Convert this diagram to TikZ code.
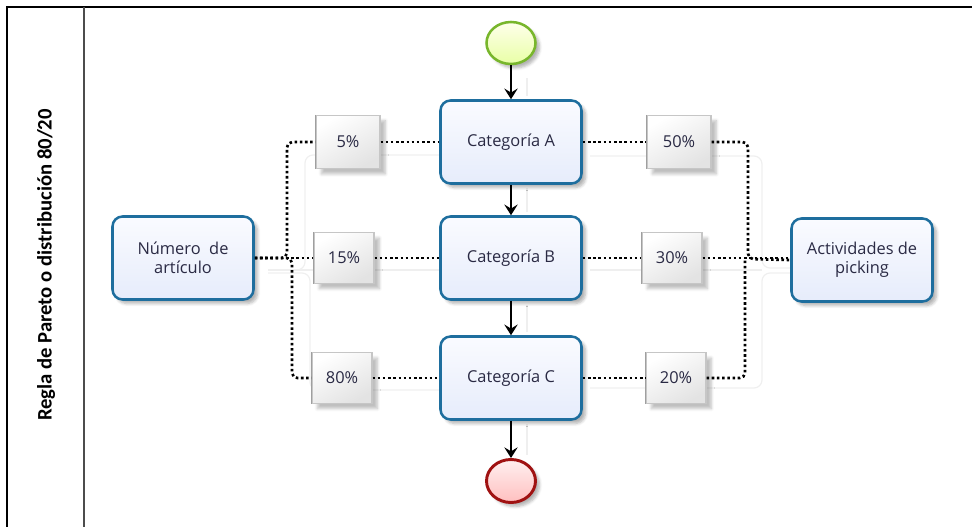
\documentclass[tikz,border=0pt]{standalone}
\usepackage{fontspec}
\setmainfont{Open Sans}
\newfontfamily\titlefont{Carlito}
\usetikzlibrary{shapes.geometric,arrows.meta,shadows.blur}

\definecolor{taskblue}{HTML}{1E6E9E}
\definecolor{taskfillA}{HTML}{FAFBFF}
\definecolor{taskfillB}{HTML}{E6ECFB}
\definecolor{startgreen}{HTML}{78B62C}
\definecolor{endred}{HTML}{A01212}
\definecolor{txt}{HTML}{2A2A44}
\definecolor{ghost}{HTML}{EFEFEF}

\tikzset{
  task/.style={rectangle, rounded corners=7.5pt, draw=taskblue, line width=1.9pt,
    minimum width=105.75pt, minimum height=62.25pt, inner sep=2pt, align=center,
    top color=taskfillA, bottom color=taskfillB, text=txt,
    font=\fontsize{12.3}{14.5}\selectfont,
    blur shadow={shadow xshift=3pt, shadow yshift=-3pt, shadow blur steps=6, shadow opacity=30}},
  dataobj/.style={rectangle, draw=gray!45, line width=0.8pt, inner sep=0pt,
    minimum width=45pt, minimum height=38pt, text=txt,
    top color=white, bottom color=gray!22, shading angle=30,
    font=\fontsize{12.3}{14}\selectfont,
    blur shadow={shadow xshift=4pt, shadow yshift=-4pt, shadow blur steps=6, shadow opacity=25}},
  startev/.style={ellipse, draw=startgreen, line width=1.9pt,
    minimum width=36.75pt, minimum height=31.5pt, inner sep=0pt,
    top color=green!4!yellow!8, bottom color=green!25!yellow!35,
    blur shadow={shadow xshift=3pt, shadow yshift=-3pt, shadow blur steps=5, shadow opacity=30}},
  endev/.style={ellipse, draw=endred, line width=2.2pt,
    minimum width=36.75pt, minimum height=32.25pt, inner sep=0pt,
    top color=red!6, bottom color=red!25,
    blur shadow={shadow xshift=3pt, shadow yshift=-3pt, shadow blur steps=5, shadow opacity=30}},
  flow/.style={draw=black, line width=1.1pt,
    -{Stealth[length=8pt, width=10pt, inset=3pt]}},
  dotline/.style={draw=black, line width=2pt, dash pattern=on 1.9pt off 2pt,
    rounded corners=4pt},
  ghostline/.style={draw=ghost, line width=0.9pt, rounded corners=6pt},
}

\begin{document}
\begin{tikzpicture}[x=0.75pt, y=-0.75pt]
  \useasboundingbox (0,0) rectangle (972,527);

  % pool frame and lane header
  \draw[line width=1.1pt] (7,527) -- (7,7) -- (972,7);
  \draw[line width=1.1pt, draw=black!70] (84,7) -- (84,527);
  \node[rotate=90, font=\titlefont\bfseries\fontsize{15.5}{17}\selectfont] (title) at (46,265)
    {Regla de Pareto o distribución 80/20};

  % faint guide lines behind the flow
  \draw[ghostline] (440,155) -- (305,155) -- (305,270) -- (268,270);
  \draw[ghostline] (268,273) -- (310,273) -- (310,390) -- (440,390);
  \draw[ghostline] (590,156) -- (762,156) -- (762,268) -- (792,268);
  \draw[ghostline] (792,273) -- (762,273) -- (762,388) -- (590,388);
  \draw[ghostline] (268,270) -- (440,270);
  \draw[ghostline] (590,270) -- (762,270);
  \draw[ghostline] (527,78) -- (527,96);
  \draw[ghostline] (527,188) -- (527,212);
  \draw[ghostline] (527,305) -- (527,332);
  \draw[ghostline] (527,424) -- (527,455);

  % events and tasks
  \node[startev] (start) at (511,43) {};
  \node[task] (catA) at (511,142) {Categoría A};
  \node[task] (catB) at (511,258) {Categoría B};
  \node[task] (catC) at (511,378) {Categoría C};
  \node[endev] (fin) at (511,481) {};

  \node[task] (num) at (183,258) {Número\ \ de\\artículo};
  \node[task] (act) at (862,260) {Actividades de\\picking};

  % percentage data objects
  \node[dataobj, minimum width=48pt, minimum height=40pt] (p5)  at (348,142) {5\%};
  \node[dataobj] (p15) at (344,258) {15\%};
  \node[dataobj] (p80) at (342,378) {80\%};
  \node[dataobj, minimum width=48pt, minimum height=40pt] (p50) at (679,142) {50\%};
  \node[dataobj] (p30) at (672,258) {30\%};
  \node[dataobj] (p20) at (676,378) {20\%};

  % darker left edges of the data objects
  \foreach \n in {p5,p15,p80,p50,p30,p20}{
    \draw[gray!75, line width=0.8pt] (\n.north west) -- (\n.south west);
  }

  % sequence flow
  \draw[flow] (start) -- (catA);
  \draw[flow] (catA) -- (catB);
  \draw[flow] (catB) -- (catC);
  \draw[flow] (catC) -- (fin);

  % associations on the left
  \coordinate (jl1) at (287,258);
  \coordinate (jl2) at (292,258);
  \draw[dotline] (num.east) -- (jl1) |- (p5.west);
  \draw[dotline] (num.east) -- (p15.west);
  \draw[dotline] (num.east) -- (jl2) |- (p80.west);
  \draw[dotline] (p5.east) -- (catA.west);
  \draw[dotline] (p15.east) -- (catB.west);
  \draw[dotline] (p80.east) -- (catC.west);

  % associations on the right
  \coordinate (jr1) at (748,259);
  \coordinate (jr2) at (745,259);
  \draw[dotline] (catA.east) -- (p50.west);
  \draw[dotline] (catB.east) -- (p30.west);
  \draw[dotline] (catC.east) -- (p20.west);
  \draw[dotline] (p50.east) -| (jr1) -- (act.west);
  \draw[dotline] (p30.east) -- (act.west |- p30.east);
  \draw[dotline] (p20.east) -| (jr2);
\end{tikzpicture}
\end{document}
